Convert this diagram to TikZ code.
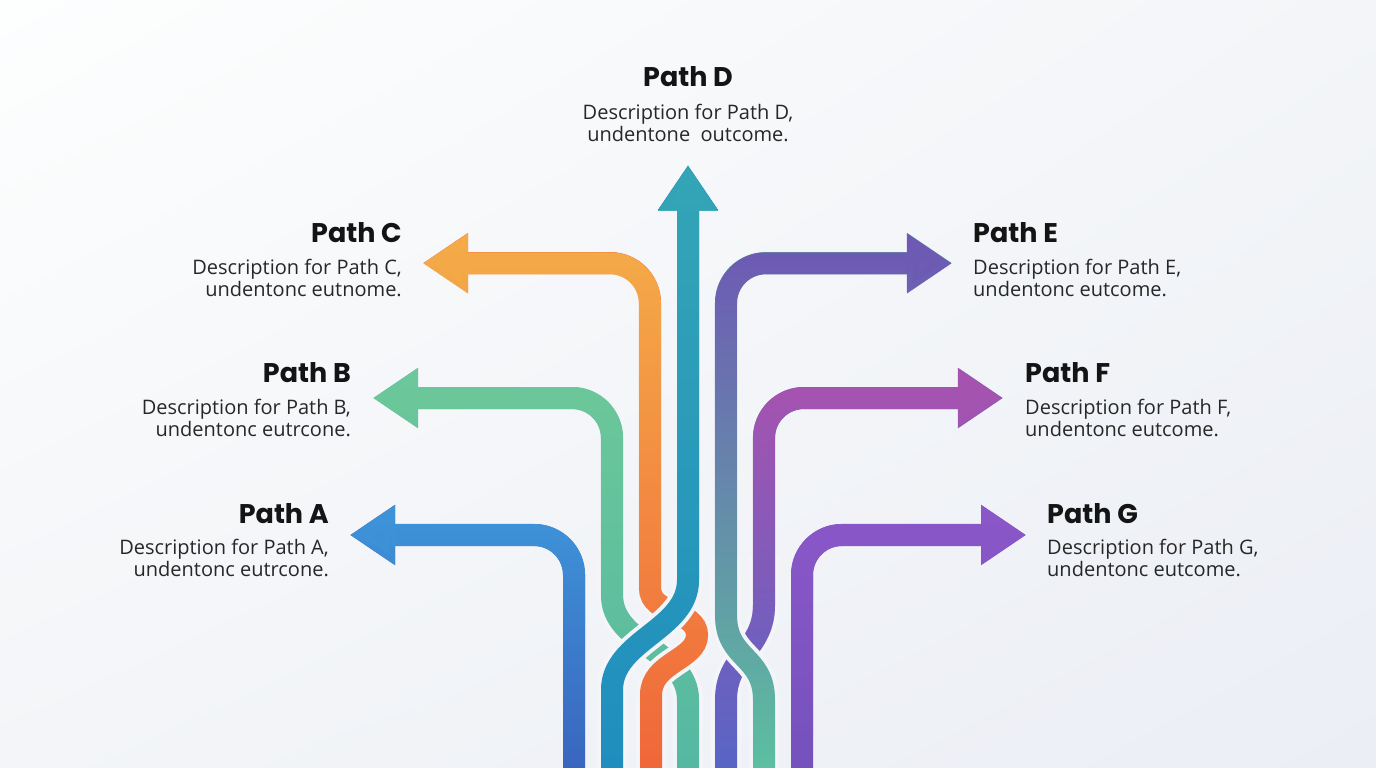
\documentclass[tikz,border=0pt]{standalone}
\usepackage{fontspec}
\setmainfont{Open Sans}
\newfontfamily\titlefont{Poppins}
\usetikzlibrary{arrows.meta,fadings,shadings}
\tikzfading[name=fadedown, top color=transparent!0, bottom color=transparent!100]
\definecolor{bgc}{HTML}{F3F5F9}
\definecolor{bgA}{HTML}{FDFEFE}
\definecolor{bgB}{HTML}{F3F5F8}
\definecolor{bgD}{HTML}{EBEEF5}
\definecolor{txt}{HTML}{141414}
\definecolor{aBot}{HTML}{3A64BE}\definecolor{aTop}{HTML}{3E92D8}
\definecolor{bBot}{HTML}{55B8A2}\definecolor{bTop}{HTML}{6CC89A}
\definecolor{cBot}{HTML}{F0663A}\definecolor{cTop}{HTML}{F5AA48}
\definecolor{dBot}{HTML}{1F8EBF}\definecolor{dTop}{HTML}{35A6B6}
\definecolor{eBot}{HTML}{5CC2A0}\definecolor{eTop}{HTML}{6E5AB4}
\definecolor{fBot}{HTML}{5666C6}\definecolor{fTop}{HTML}{A653B0}
\definecolor{gBot}{HTML}{7452BC}\definecolor{gTop}{HTML}{8A57C9}
\tikzset{
  strand/.style={line width=22pt},
  gapline/.style={line width=30pt, draw=bgc},
  head/.style={-{Triangle[width=57pt,length=45pt]}},
  fadelayer/.style={path fading=fadedown},
  ttl/.style={font=\titlefont\bfseries\fontsize{27}{31}\selectfont, text=txt, inner sep=0pt},
  dsc/.style={font=\fontsize{20}{23}\selectfont, text=txt!92, inner sep=0pt},
}
\begin{document}
\begin{tikzpicture}[x=1pt,y=-1pt]
\useasboundingbox (0,0) rectangle (1376,768);
\shade[upper left=bgA, upper right=bgB, lower left=bgB, lower right=bgD] (0,0) rectangle (1376,768);

% coordinates
\coordinate (A0) at (574,768); \coordinate (A1) at (350,535);
\coordinate (G0) at (802,768); \coordinate (G1) at (1026,535);
\coordinate (B0) at (688,768); \coordinate (B1) at (373,398);
\coordinate (C0) at (651,768); \coordinate (C1) at (423,263);
\coordinate (D0) at (612,768); \coordinate (D1) at (688,165);
\coordinate (E0) at (764,768); \coordinate (E1) at (952,263);
\coordinate (F0) at (726,768); \coordinate (F1) at (1003,398);

\def\pathA{(A0) [rounded corners=40pt] |- (A1)}
\def\pathG{(G0) [rounded corners=40pt] |- (G1)}
\def\lowB{(B0) -- (688,700) .. controls (688,650) and (612,645) .. (612,595) -- (612,555)}
\def\pathB{(B0) -- (688,700) .. controls (688,650) and (612,645) .. (612,595) [rounded corners=40pt] -- (612,398) -- (B1)}
\def\lowC{(C0) -- (651,695) .. controls (651,662) and (697,660) .. (697,635) .. controls (697,610) and (650,615) .. (650,588) -- (650,555)}
\def\pathC{(C0) -- (651,695) .. controls (651,662) and (697,660) .. (697,635) .. controls (697,610) and (650,615) .. (650,588) [rounded corners=40pt] -- (650,263) -- (C1)}
\def\lowD{(D0) -- (612,690) .. controls (612,640) and (688,630) .. (688,580) -- (688,545)}
\def\pathD{(D0) -- (612,690) .. controls (612,640) and (688,630) .. (688,580) -- (D1)}
\def\lowE{(E0) -- (764,700) .. controls (764,655) and (726,660) .. (726,615) -- (726,555)}
\def\pathE{(E0) -- (764,700) .. controls (764,655) and (726,660) .. (726,615) [rounded corners=40pt] -- (726,263) -- (E1)}
\def\lowF{(F0) -- (726,700) .. controls (726,655) and (764,650) .. (764,605) -- (764,555)}
\def\pathF{(F0) -- (726,700) .. controls (726,655) and (764,650) .. (764,605) [rounded corners=40pt] -- (764,398) -- (F1)}

% outer strands
\draw[strand, head, draw=aBot] \pathA;
\draw[strand, head, draw=aTop, fadelayer] \pathA;
\draw[strand, head, draw=gBot] \pathG;
\draw[strand, head, draw=gTop, fadelayer] \pathG;

% braided strands
\draw[gapline] \lowB;
\draw[strand, head, draw=bBot] \pathB;
\draw[strand, head, draw=bTop, fadelayer] \pathB;

\draw[gapline] \lowF;
\draw[strand, head, draw=fBot] \pathF;
\draw[strand, head, draw=fTop, fadelayer] \pathF;

\draw[gapline] \lowC;
\draw[strand, head, draw=cBot] \pathC;
\draw[strand, head, draw=cTop, fadelayer] \pathC;

\draw[gapline] \lowD;
\draw[strand, head, draw=dBot] \pathD;
\draw[strand, head, draw=dTop, fadelayer] \pathD;

\draw[gapline] \lowE;
\draw[strand, head, draw=eBot] \pathE;
\draw[strand, head, draw=eTop, fadelayer] \pathE;

% texts
\node[ttl, anchor=base] (tD) at (688,87) {Path D};
\node[dsc, anchor=base] (dD1) at (688,119) {Description for Path D,};
\node[dsc, anchor=base] (dD2) at (688,141) {undentone~ outcome.};

\node[ttl, anchor=base east] (tC) at (402,242) {Path C};
\node[dsc, anchor=base east] (dC1) at (402,274) {Description for Path C,};
\node[dsc, anchor=base east] (dC2) at (402,296) {undentonc eutnome.};

\node[ttl, anchor=base east] (tB) at (351,382) {Path B};
\node[dsc, anchor=base east] (dB1) at (351,414) {Description for Path B,};
\node[dsc, anchor=base east] (dB2) at (351,436) {undentonc eutrcone.};

\node[ttl, anchor=base east] (tA) at (329,523) {Path A};
\node[dsc, anchor=base east] (dA1) at (329,554) {Description for Path A,};
\node[dsc, anchor=base east] (dA2) at (329,576) {undentonc eutrcone.};

\node[ttl, anchor=base west] (tE) at (973,242) {Path E};
\node[dsc, anchor=base west] (dE1) at (973,274) {Description for Path E,};
\node[dsc, anchor=base west] (dE2) at (973,296) {undentonc eutcome.};

\node[ttl, anchor=base west] (tF) at (1025,382) {Path F};
\node[dsc, anchor=base west] (dF1) at (1025,414) {Description for Path F,};
\node[dsc, anchor=base west] (dF2) at (1025,436) {undentonc eutcome.};

\node[ttl, anchor=base west] (tG) at (1047,523) {Path G};
\node[dsc, anchor=base west] (dG1) at (1047,554) {Description for Path G,};
\node[dsc, anchor=base west] (dG2) at (1047,576) {undentonc eutcome.};
\end{tikzpicture}
\end{document}
